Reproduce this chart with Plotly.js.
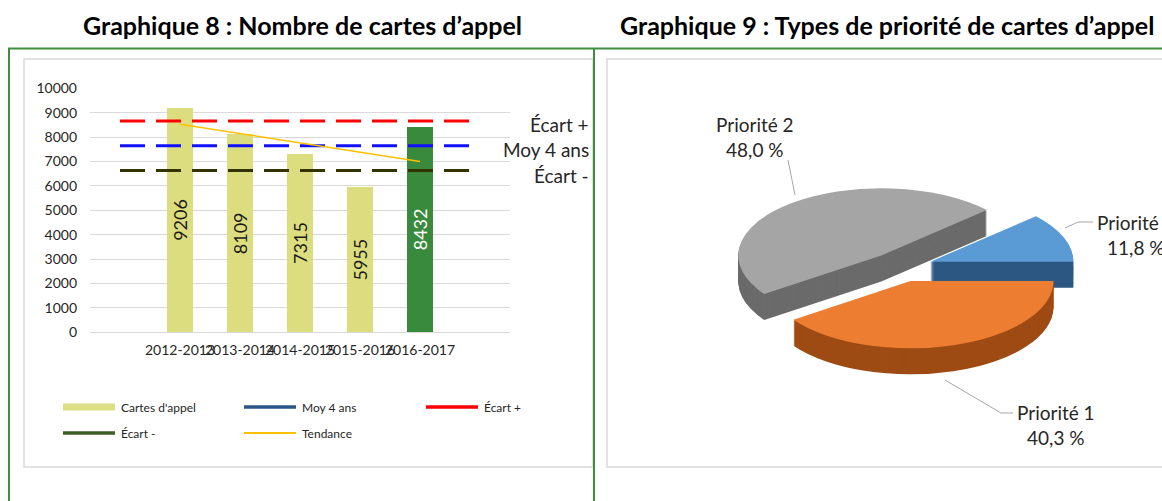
<!DOCTYPE html>
<html>
<head>
<meta charset="utf-8">
<script src="https://cdn.plot.ly/plotly-3.0.1.min.js"></script>
<style>
  html, body { margin: 0; padding: 0; background: #ffffff; }
  #chart { width: 1162px; height: 501px; }
</style>
</head>
<body>
<div id="chart"></div>
<script>
// ---------- DATA ----------
const categories   = ['', '2012-2013', '2013-2014', '2014-2015', '2015-2016', '2016-2017', ''];
const cartesAppel  = [null, 9206, 8109, 7315, 5955, 8432, null];
const moy4ans      = [7646, 7646, 7646, 7646, 7646, 7646, 7646];
const ecartPlus    = [8660, 8660, 8660, 8660, 8660, 8660, 8660];
const ecartMinus   = [6630, 6630, 6630, 6630, 6630, 6630, 6630];
const tendance     = [null, 8530, 8150, 7770, 7390, 7000, null];
const seriesNames  = ['Cartes d\'appel', 'Moy 4 ans', 'Écart +', 'Écart -', 'Tendance'];
const refLineNames = ['Écart +', 'Moy 4 ans', 'Écart -'];
const yTicks       = [0, 1000, 2000, 3000, 4000, 5000, 6000, 7000, 8000, 9000, 10000];

const pieLabels = ['Priorité 1', 'Priorité 2', 'Priorité 3'];
const pieValues = [40.3, 48.0, 11.8];

const title8 = 'Graphique 8 : Nombre de cartes d’appel';
const title9 = 'Graphique 9 : Types de priorité de cartes d’appel';

// ---------- HELPERS / STYLE ----------
const W = 1162, H = 501;
const X = px => px / W;
const Y = py => 1 - py / H;
const FONT = 'Lato, "Open Sans", sans-serif';
const idx = categories.map((_, i) => i);
const lastBar = cartesAppel.reduce((a, v, i) => (v !== null ? i : a), -1);
const yellow = '#dcdd7e', green = '#3a8a3e';

const traces = [];

// bars
traces.push({
  type: 'bar', x: idx, y: cartesAppel, width: 0.42,
  marker: { color: idx.map(i => i === lastBar ? green : yellow), line: { width: 0 } },
  text: cartesAppel.map(v => v === null ? '' : String(v)),
  textposition: 'inside', insidetextanchor: 'middle', textangle: -90,
  constraintext: 'none',
  textfont: { family: FONT, size: 18, color: idx.map(i => i === lastBar ? '#ffffff' : '#1a1a1a') },
  showlegend: false, hoverinfo: 'skip'
});
// dashed reference lines
const dashStyle = '25px,11px';
[[ecartPlus, '#ff0000'], [moy4ans, '#1010ff'], [ecartMinus, '#333300']].forEach(([arr, c]) => {
  traces.push({ type: 'scatter', mode: 'lines', x: idx, y: arr,
    line: { color: c, width: 3, dash: dashStyle }, showlegend: false, hoverinfo: 'skip' });
});
// trend
traces.push({ type: 'scatter', mode: 'lines', x: idx, y: tendance, connectgaps: false,
  line: { color: '#ffc000', width: 1.5 }, showlegend: false, hoverinfo: 'skip' });

// pie (layered to give depth)
const pieC = { x: 901, y: 267 }, pieR = 143, pull = 0.22, squish = 0.47, thick = 26, nLayers = 27;
const half = pieR * (1 + pull);
const pieDomain = { x: [X(pieC.x - half), X(pieC.x + half)], y: [Y(pieC.y + half), Y(pieC.y - half)] };
const topColors  = ['#ed7d31', '#a5a5a5', '#5b9bd5'];
const sideColors = ['#9e4b14', '#6b6b6b', '#2c5783'];
for (let i = 0; i < nLayers; i++) {
  traces.push({
    type: 'pie', labels: pieLabels, values: pieValues, sort: false,
    direction: 'clockwise', rotation: 90, pull: pull,
    textinfo: 'none', hoverinfo: 'skip', showlegend: false,
    domain: pieDomain,
    marker: { colors: i === nLayers - 1 ? topColors : sideColors, line: { width: 0 } }
  });
}

// ---------- SHAPES ----------
const shapes = [];
const greenLine = { color: '#3d8f3d', width: 2 };
shapes.push({ type: 'line', xref: 'paper', yref: 'paper', x0: X(8), x1: X(1162), y0: Y(48.5), y1: Y(48.5), line: greenLine });
shapes.push({ type: 'line', xref: 'paper', yref: 'paper', x0: X(9), x1: X(9), y0: Y(48), y1: Y(501), line: greenLine });
shapes.push({ type: 'line', xref: 'paper', yref: 'paper', x0: X(594), x1: X(594), y0: Y(48), y1: Y(501), line: greenLine });
// inner chart frames
shapes.push({ type: 'rect', xref: 'paper', yref: 'paper', x0: X(24), x1: X(593), y0: Y(467), y1: Y(59), line: { color: '#d9d9d9', width: 1.5 }, layer: 'below' });
shapes.push({ type: 'rect', xref: 'paper', yref: 'paper', x0: X(607), x1: X(1175), y0: Y(467), y1: Y(59), line: { color: '#d9d9d9', width: 1.5 }, layer: 'below' });

// legend (manual, Excel-like)
const legendStyle = [
  { color: '#dedf84', width: 7 }, { color: '#2b5788', width: 3.5 }, { color: '#ff0000', width: 3.5 },
  { color: '#3d5e27', width: 3.5 }, { color: '#ffc000', width: 2 }
];
const legendPos = [[63, 407], [244, 407], [426, 407], [63, 433], [244, 433]];
const annotations = [];
seriesNames.forEach((name, i) => {
  const [lx, ly] = legendPos[i];
  shapes.push({ type: 'line', xref: 'paper', yref: 'paper', x0: X(lx), x1: X(lx + 52), y0: Y(ly), y1: Y(ly), line: legendStyle[i] });
  annotations.push({ xref: 'paper', yref: 'paper', x: X(lx + 56), y: Y(ly), xanchor: 'left', yanchor: 'middle',
    text: name, showarrow: false, font: { family: FONT, size: 12, color: '#262626' } });
});

// leader lines of pie labels
const leader = { color: '#a6a6a6', width: 1 };
const pathPx = pts => pts.map((p, i) => (i ? 'L' : 'M') + X(p[0]) + ',' + Y(p[1])).join(' ');
shapes.push({ type: 'path', xref: 'paper', yref: 'paper', path: pathPx([[795, 195], [788, 160]]), line: leader });
shapes.push({ type: 'path', xref: 'paper', yref: 'paper', path: pathPx([[1065, 228], [1078, 222], [1093, 222]]), line: leader });
shapes.push({ type: 'path', xref: 'paper', yref: 'paper', path: pathPx([[945, 380], [1001, 413], [1013, 413]]), line: leader });

// titles
annotations.push({ xref: 'paper', yref: 'paper', x: X(302), y: Y(25), xanchor: 'center', yanchor: 'middle',
  text: '<b>' + title8 + '</b>', showarrow: false, font: { family: FONT, size: 25, color: '#000' } });
annotations.push({ xref: 'paper', yref: 'paper', x: X(887), y: Y(25), xanchor: 'center', yanchor: 'middle',
  text: '<b>' + title9 + '</b>', showarrow: false, font: { family: FONT, size: 25, color: '#000' } });

// right-side reference line labels
const refLabelY = [125, 149, 175];
refLineNames.forEach((t, i) => {
  annotations.push({ xref: 'paper', yref: 'paper', x: X(591), y: Y(refLabelY[i]), xanchor: 'right', yanchor: 'middle',
    text: t, showarrow: false, font: { family: FONT, size: 19, color: '#262626' } });
});

// pie labels
const pieLabelPos = [[1056, 425], [755, 137], [1136, 235]];
pieLabels.forEach((lab, i) => {
  annotations.push({ xref: 'paper', yref: 'paper', x: X(pieLabelPos[i][0]), y: Y(pieLabelPos[i][1]),
    xanchor: 'center', yanchor: 'middle', align: 'center', showarrow: false,
    text: lab + '<br>' + pieValues[i].toFixed(1).replace('.', ',') + ' %',
    font: { family: FONT, size: 19, color: '#262626' } });
});

const layout = {
  width: W, height: H,
  margin: { l: 0, r: 0, t: 0, b: 0, pad: 0 },
  paper_bgcolor: '#ffffff', plot_bgcolor: 'rgba(0,0,0,0)',
  showlegend: false, hovermode: false,
  font: { family: FONT },
  xaxis: {
    domain: [X(90), X(510)], range: [-0.5, categories.length - 0.5],
    tickmode: 'array', tickvals: idx, ticktext: categories, tickangle: 0,
    showgrid: false, zeroline: false, showline: false, ticks: '',
    ticklabelstandoff: 8,
    tickfont: { family: FONT, size: 14, color: '#262626' }
  },
  yaxis: {
    domain: [Y(332.3), Y(88.3)], range: [0, 10000],
    tickmode: 'array', tickvals: yTicks, ticktext: yTicks.map(String),
    showgrid: true, gridcolor: '#d9d9d9', gridwidth: 1,
    zeroline: true, zerolinecolor: '#d9d9d9', zerolinewidth: 1,
    showline: false, ticks: '', ticklabelstandoff: 12,
    tickfont: { family: FONT, size: 14, color: '#262626' }
  },
  bargap: 0,
  shapes: shapes,
  annotations: annotations
};

Plotly.newPlot('chart', traces, layout, { staticPlot: true, displayModeBar: false }).then(gd => {
  const groups = gd.querySelectorAll('.pielayer > g.trace');
  const n = groups.length;
  groups.forEach((g, i) => {
    const off = n > 1 ? thick * (n - 1 - i) / (n - 1) : 0;
    const ty = pieC.y * (1 - squish) + off;
    g.setAttribute('transform', 'translate(0,' + ty + ') scale(1,' + squish + ')');
  });
});
</script>
</body>
</html>
